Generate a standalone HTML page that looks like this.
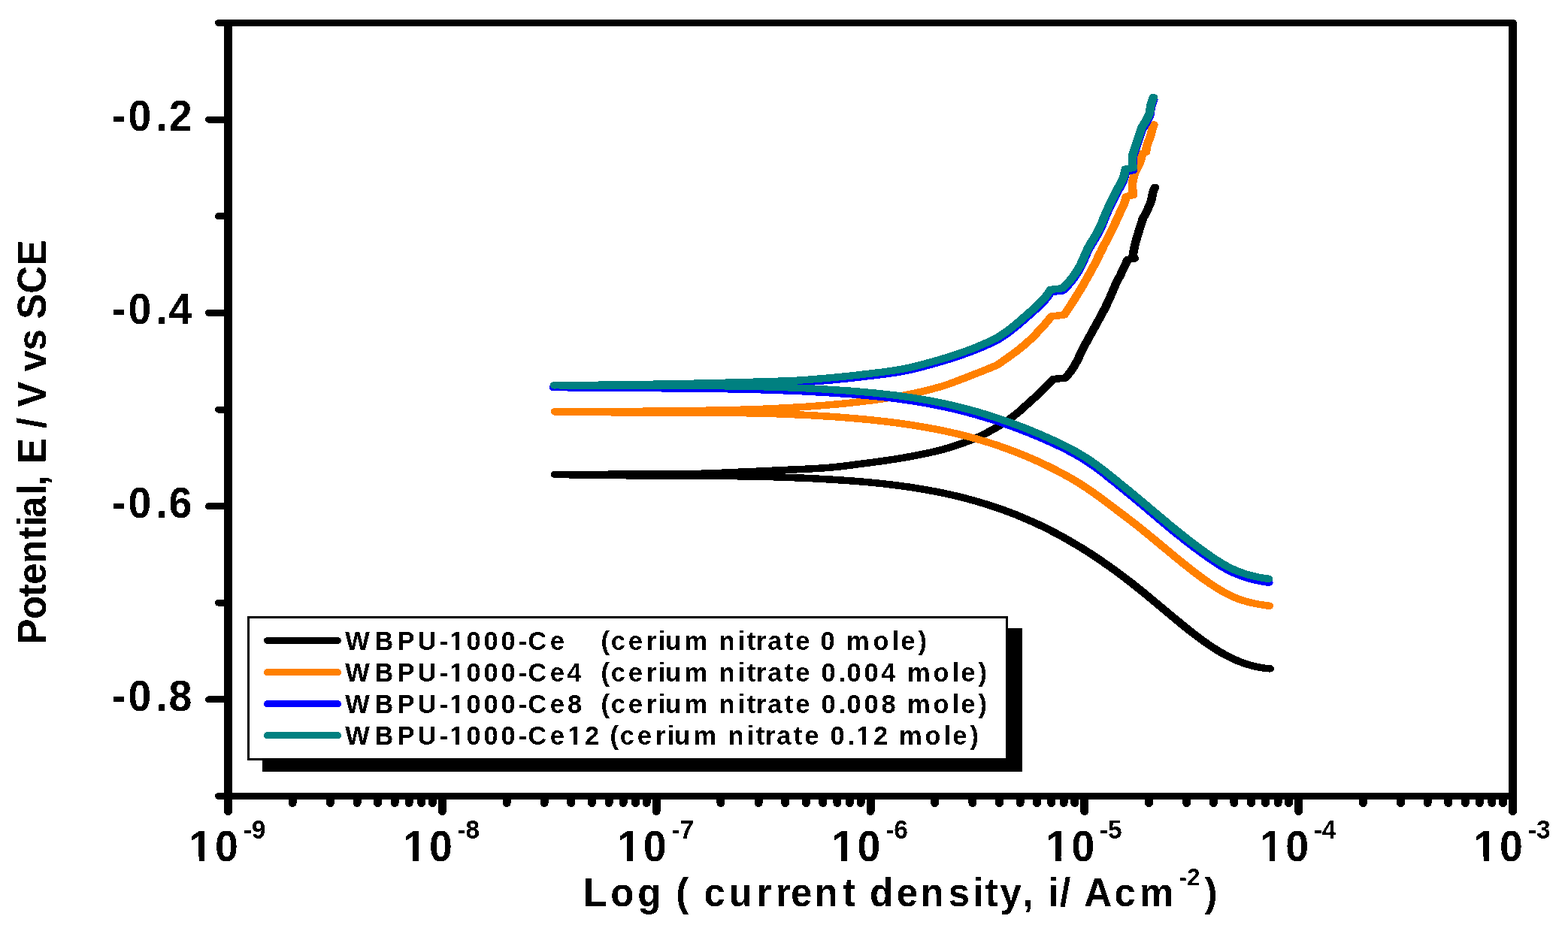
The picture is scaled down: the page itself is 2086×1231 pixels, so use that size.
<!DOCTYPE html>
<html lang="en"><head><meta charset="utf-8"><title>Potentiodynamic polarization curves</title>
<style>html,body{margin:0;padding:0;background:#fff}body{width:2086px;height:1231px;overflow:hidden}svg{display:block}text{font-family:"Liberation Sans",Arial,Helvetica,sans-serif;font-weight:bold;fill:#000;font-kerning:none}</style></head><body>
<svg width="2086" height="1231" viewBox="0 0 2086 1231">
<defs><filter id="bin" x="0" y="0" width="100%" height="100%" filterUnits="userSpaceOnUse" color-interpolation-filters="sRGB"><feComponentTransfer><feFuncA type="discrete" tableValues="0 1"/></feComponentTransfer></filter><clipPath id="c1"><rect x="-3000" y="-69.0" width="6000" height="65.41"/><rect x="-3000.00" y="-4.09" width="3599.58" height="17.2"/><rect x="606.24" y="-4.09" width="4.76" height="17.2"/><rect x="617.18" y="-4.09" width="2382.82" height="17.2"/></clipPath><clipPath id="c2"><rect x="-3000" y="-69.0" width="6000" height="65.41"/><rect x="-3000.00" y="-4.09" width="3599.58" height="17.2"/><rect x="606.24" y="-4.09" width="4.76" height="17.2"/><rect x="617.18" y="-4.09" width="2382.82" height="17.2"/></clipPath><clipPath id="c3"><rect x="-3000" y="-69.0" width="6000" height="65.41"/><rect x="-3000.00" y="-4.09" width="3599.58" height="17.2"/><rect x="606.24" y="-4.09" width="4.76" height="17.2"/><rect x="617.18" y="-4.09" width="2382.82" height="17.2"/></clipPath><clipPath id="c4"><rect x="-3000" y="-69.0" width="6000" height="65.41"/><rect x="-3000.00" y="-4.09" width="3599.58" height="17.2"/><rect x="606.24" y="-4.09" width="4.76" height="17.2"/><rect x="617.18" y="-4.09" width="139.40" height="17.2"/><rect x="763.24" y="-4.09" width="4.76" height="17.2"/><rect x="774.18" y="-4.09" width="2225.82" height="17.2"/></clipPath><clipPath id="c5"><rect x="-3000" y="-69.0" width="6000" height="65.41"/><rect x="-3000.00" y="-4.09" width="4140.58" height="17.2"/><rect x="1147.24" y="-4.09" width="4.76" height="17.2"/><rect x="1158.18" y="-4.09" width="1841.82" height="17.2"/></clipPath><clipPath id="c6"><rect x="-3000" y="-111.0" width="6000" height="105.23"/><rect x="-3000.00" y="-6.27" width="3253.83" height="27.8"/><rect x="264.54" y="-6.27" width="7.66" height="27.8"/><rect x="282.13" y="-6.27" width="2717.87" height="27.8"/></clipPath><clipPath id="c7"><rect x="-3000" y="-111.0" width="6000" height="105.23"/><rect x="-3000.00" y="-6.27" width="3538.66" height="27.8"/><rect x="549.37" y="-6.27" width="7.66" height="27.8"/><rect x="566.97" y="-6.27" width="2433.03" height="27.8"/></clipPath><clipPath id="c8"><rect x="-3000" y="-111.0" width="6000" height="105.23"/><rect x="-3000.00" y="-6.27" width="3823.50" height="27.8"/><rect x="834.21" y="-6.27" width="7.66" height="27.8"/><rect x="851.80" y="-6.27" width="2148.20" height="27.8"/></clipPath><clipPath id="c9"><rect x="-3000" y="-111.0" width="6000" height="105.23"/><rect x="-3000.00" y="-6.27" width="4108.33" height="27.8"/><rect x="1119.04" y="-6.27" width="7.66" height="27.8"/><rect x="1136.63" y="-6.27" width="1863.37" height="27.8"/></clipPath><clipPath id="c10"><rect x="-3000" y="-111.0" width="6000" height="105.23"/><rect x="-3000.00" y="-6.27" width="4393.16" height="27.8"/><rect x="1403.87" y="-6.27" width="7.66" height="27.8"/><rect x="1421.47" y="-6.27" width="1578.53" height="27.8"/></clipPath><clipPath id="c11"><rect x="-3000" y="-111.0" width="6000" height="105.23"/><rect x="-3000.00" y="-6.27" width="4678.00" height="27.8"/><rect x="1688.71" y="-6.27" width="7.66" height="27.8"/><rect x="1706.30" y="-6.27" width="1293.70" height="27.8"/></clipPath><clipPath id="c12"><rect x="-3000" y="-111.0" width="6000" height="105.23"/><rect x="-3000.00" y="-6.27" width="4962.83" height="27.8"/><rect x="1973.54" y="-6.27" width="7.66" height="27.8"/><rect x="1991.13" y="-6.27" width="1008.87" height="27.8"/></clipPath></defs>
<rect width="2086" height="1231" fill="#fff"/>
<g id="curves" fill="none" stroke-linecap="round" stroke-linejoin="round" shape-rendering="crispEdges"><g transform="scale(1.22222 1)" stroke-width="9.5">
<path stroke="#000000" d="M604.2 631.5L606.7 631.5L609.2 631.5L611.6 631.5L614.1 631.5L616.6 631.5L619.1 631.4L621.5 631.4L624.0 631.4L626.5 631.4L628.9 631.4L631.4 631.4L633.9 631.4L636.4 631.4L638.8 631.4L641.3 631.3L643.8 631.3L646.2 631.3L648.7 631.3L651.2 631.3L653.7 631.3L656.1 631.3L658.6 631.3L661.1 631.3L663.5 631.2L666.0 631.2L668.5 631.2L671.0 631.2L673.4 631.2L675.9 631.2L678.4 631.2L680.8 631.1L683.3 631.1L685.8 631.1L688.3 631.1L690.7 631.1L693.2 631.1L695.7 631.1L698.1 631.1L700.6 631.0L703.1 631.0L705.6 631.0L708.0 631.0L710.5 631.0L713.0 631.0L715.4 631.0L717.9 630.9L720.4 630.9L722.9 630.9L725.3 630.9L727.8 630.9L730.3 630.8L732.7 630.8L735.2 630.8L737.7 630.8L740.2 630.7L742.6 630.7L745.1 630.7L747.6 630.7L750.0 630.6L752.5 630.6L755.0 630.5L757.5 630.4L759.9 630.4L762.4 630.3L764.9 630.2L767.3 630.1L769.8 630.0L772.3 629.9L774.7 629.8L777.2 629.7L779.7 629.5L782.2 629.4L784.6 629.3L787.1 629.2L789.6 629.0L792.0 628.9L794.5 628.8L797.0 628.6L799.4 628.5L801.9 628.4L804.4 628.2L806.9 628.1L809.3 628.0L811.8 627.8L814.3 627.7L816.7 627.6L819.2 627.4L821.7 627.3L824.1 627.2L826.6 627.1L829.1 626.9L831.5 626.8L834.0 626.6L836.5 626.5L839.0 626.4L841.4 626.2L843.9 626.1L846.4 625.9L848.8 625.8L851.3 625.6L853.8 625.5L856.2 625.4L858.7 625.2L861.2 625.1L863.7 625.0L866.1 624.8L868.6 624.7L871.1 624.5L873.5 624.4L876.0 624.3L878.5 624.1L880.9 623.9L883.4 623.8L885.9 623.6L888.3 623.4L890.8 623.3L893.3 623.1L895.7 622.9L898.2 622.7L900.7 622.4L903.1 622.2L905.6 621.9L908.0 621.7L910.5 621.3L913.0 621.0L915.4 620.7L917.9 620.3L920.3 620.0L922.8 619.6L925.2 619.2L927.7 618.8L930.1 618.4L932.6 618.0L935.0 617.6L937.5 617.2L939.9 616.9L942.4 616.5L944.8 616.1L947.3 615.7L949.7 615.3L952.2 614.9L954.6 614.5L957.1 614.1L959.5 613.7L962.0 613.2L964.4 612.8L966.9 612.4L969.3 611.9L971.8 611.5L974.2 611.0L976.7 610.5L979.1 610.1L981.5 609.6L984.0 609.1L986.4 608.5L988.8 608.0L991.3 607.5L993.7 606.9L996.1 606.4L998.6 605.8L1001.0 605.2L1003.4 604.6L1005.8 604.0L1008.3 603.4L1010.7 602.7L1013.1 602.1L1015.5 601.4L1017.9 600.7L1020.3 600.0L1022.7 599.3L1025.1 598.6L1027.5 597.8L1029.8 596.9L1032.2 596.1L1034.6 595.2L1036.9 594.3L1039.3 593.3L1041.6 592.4L1044.0 591.4L1046.3 590.4L1048.7 589.4L1051.0 588.4L1053.3 587.3L1055.6 586.3L1057.9 585.2L1060.2 584.0L1062.5 582.8L1064.7 581.6L1067.0 580.3L1069.2 579.0L1071.4 577.7L1073.6 576.3L1075.8 574.9L1078.0 573.4L1080.1 572.0L1082.3 570.5L1084.4 569.0L1086.5 567.4L1088.7 565.8L1090.7 564.2L1092.8 562.6L1094.9 560.9L1097.0 559.2L1099.0 557.5L1101.0 555.7L1103.0 553.9L1104.9 552.1L1106.9 550.2L1108.8 548.3L1110.6 546.3L1112.5 544.3L1114.3 542.3L1116.1 540.2L1118.0 538.2L1119.8 536.2L1121.7 534.2L1123.5 532.2L1125.3 530.1L1127.2 528.1L1129.0 526.0L1130.8 524.0L1132.6 521.9L1134.4 519.9L1136.2 517.8L1137.9 515.6L1139.6 513.4L1141.3 511.3L1143.0 509.0L1144.6 506.8L1146.3 504.5L1146.3 504.5L1159.4 503.2L1159.4 503.2L1161.1 500.9L1162.7 498.5L1164.3 496.1L1165.8 493.7L1167.2 491.2L1168.6 488.6L1169.9 486.0L1171.1 483.3L1172.3 480.5L1173.5 477.8L1174.5 475.0L1175.6 472.2L1176.7 469.4L1177.8 466.6L1178.9 463.9L1180.0 461.2L1181.2 458.4L1182.4 455.7L1183.6 453.0L1184.8 450.3L1186.0 447.6L1187.3 444.9L1188.5 442.2L1189.7 439.5L1190.9 436.8L1192.1 434.1L1193.3 431.4L1194.5 428.7L1195.8 426.0L1197.0 423.3L1198.2 420.6L1199.4 417.9L1200.6 415.2L1201.7 412.5L1202.9 409.7L1204.0 407.0L1205.1 404.2L1206.2 401.4L1207.2 398.6L1208.2 395.8L1209.2 393.0L1210.2 390.1L1211.2 387.3L1212.1 384.4L1213.2 381.6L1214.2 378.8L1215.3 376.1L1216.5 373.3L1217.6 370.6L1218.8 367.8L1219.9 365.1L1221.0 362.3L1222.1 359.6L1223.2 356.8L1224.2 354.0L1225.3 351.2L1226.3 348.3L1227.3 345.5L1227.3 345.5L1235.0 344.0L1233.0 341.0L1233.4 337.7L1233.9 334.4L1234.5 331.0L1235.0 327.8L1235.7 324.5L1236.4 321.2L1237.1 318.0L1237.9 314.7L1238.7 311.5L1239.5 308.3L1240.3 305.1L1241.2 301.9L1242.0 298.6L1242.8 295.4L1243.6 292.2L1244.5 289.0L1244.5 289.0L1246.5 286.0L1246.5 286.0L1247.7 282.8L1248.9 279.6L1250.1 276.3L1251.2 273.0L1252.3 269.7L1253.2 266.4L1253.9 263.0L1254.4 259.5L1255.0 256.0L1255.8 252.6L1257.1 249.4"/>
<path stroke="#000000" d="M604.2 631.3L607.5 631.4L610.8 631.5L614.0 631.6L617.3 631.7L620.6 631.8L623.9 631.8L627.1 631.9L630.4 632.0L633.7 632.1L637.0 632.1L640.2 632.2L643.5 632.3L646.8 632.3L650.0 632.4L653.3 632.4L656.6 632.5L659.9 632.5L663.1 632.6L666.4 632.6L669.7 632.6L673.0 632.7L676.2 632.7L679.5 632.7L682.8 632.8L686.0 632.8L689.3 632.8L692.6 632.8L695.9 632.9L699.1 632.9L702.4 632.9L705.7 632.9L709.0 632.9L712.2 633.0L715.5 633.0L718.8 633.0L722.0 633.0L725.3 633.0L728.6 633.0L731.9 633.1L735.1 633.1L738.4 633.1L741.7 633.1L745.0 633.1L748.2 633.1L751.5 633.2L754.8 633.2L758.0 633.2L761.3 633.2L764.6 633.3L767.9 633.3L771.1 633.3L774.4 633.4L777.7 633.4L781.0 633.4L784.2 633.5L787.5 633.5L790.8 633.6L794.0 633.6L797.3 633.7L800.6 633.7L803.9 633.8L807.1 633.9L810.4 633.9L813.7 634.0L817.0 634.1L820.2 634.2L823.5 634.2L826.8 634.3L830.0 634.4L833.3 634.5L836.6 634.6L839.9 634.7L843.1 634.8L846.4 635.0L849.7 635.1L853.0 635.2L856.2 635.3L859.5 635.5L862.8 635.6L866.0 635.8L869.3 635.9L872.6 636.1L875.9 636.3L879.1 636.5L882.4 636.7L885.7 636.8L889.0 637.0L892.2 637.3L895.5 637.5L898.8 637.7L902.0 637.9L905.3 638.2L908.6 638.4L911.9 638.7L915.1 638.9L918.4 639.2L921.7 639.5L925.0 639.8L928.2 640.1L931.5 640.4L934.8 640.7L938.0 641.0L941.3 641.4L944.6 641.7L947.9 642.1L951.1 642.5L954.4 642.9L957.7 643.3L961.0 643.7L964.2 644.2L967.5 644.6L970.8 645.1L974.0 645.6L977.3 646.1L980.6 646.7L983.9 647.2L987.1 647.8L990.4 648.3L993.7 649.0L997.0 649.6L1000.2 650.2L1003.5 650.9L1006.8 651.6L1010.0 652.3L1013.3 653.0L1016.6 653.8L1019.9 654.5L1023.1 655.3L1026.4 656.2L1029.7 657.0L1033.0 657.9L1036.2 658.8L1039.5 659.7L1042.8 660.7L1046.0 661.7L1049.3 662.7L1052.6 663.7L1055.9 664.8L1059.1 665.9L1062.4 667.0L1065.7 668.2L1069.0 669.4L1072.2 670.6L1075.5 671.9L1078.8 673.1L1082.0 674.5L1085.3 675.8L1088.6 677.2L1091.9 678.6L1095.1 680.1L1098.4 681.6L1101.7 683.1L1105.0 684.6L1108.2 686.2L1111.5 687.9L1114.8 689.6L1118.0 691.3L1121.3 693.0L1124.6 694.8L1127.9 696.6L1131.1 698.5L1134.4 700.4L1137.7 702.4L1141.0 704.3L1144.2 706.4L1147.5 708.5L1150.8 710.6L1154.0 712.7L1157.3 714.9L1160.6 717.2L1163.9 719.5L1167.1 721.8L1170.4 724.2L1173.7 726.6L1177.0 729.0L1180.2 731.5L1183.5 734.0L1186.8 736.6L1190.0 739.2L1193.3 741.9L1196.6 744.6L1199.9 747.3L1203.1 750.1L1206.4 752.9L1209.7 755.7L1213.0 758.6L1216.2 761.5L1219.5 764.5L1222.8 767.5L1226.0 770.5L1229.3 773.6L1232.6 776.7L1235.9 779.9L1239.1 783.1L1242.4 786.3L1245.7 789.6L1249.0 792.8L1252.2 796.1L1255.5 799.5L1258.8 802.8L1262.0 806.1L1265.3 809.5L1268.6 812.8L1271.9 816.2L1275.1 819.5L1278.4 822.8L1281.7 826.1L1285.0 829.4L1288.2 832.7L1291.5 835.9L1294.8 839.1L1298.0 842.2L1301.3 845.3L1304.6 848.3L1307.9 851.3L1311.1 854.2L1314.4 857.0L1317.7 859.7L1321.0 862.3L1324.2 864.8L1327.5 867.3L1330.8 869.6L1334.0 871.8L1337.3 873.9L1340.6 875.8L1343.9 877.7L1347.1 879.4L1350.4 881.0L1353.7 882.5L1357.0 883.8L1360.2 885.0L1363.5 886.1L1366.8 887.1L1370.0 887.9L1373.3 888.6L1376.6 889.2L1379.9 889.6L1382.2 889.8"/>
<path stroke="#FF8000" d="M604.2 548.0L606.7 548.0L609.2 548.0L611.6 548.0L614.1 547.9L616.6 547.9L619.1 547.9L621.5 547.9L624.0 547.9L626.5 547.9L629.0 547.8L631.4 547.8L633.9 547.8L636.4 547.8L638.9 547.8L641.3 547.7L643.8 547.7L646.3 547.7L648.8 547.7L651.2 547.7L653.7 547.6L656.2 547.6L658.7 547.6L661.1 547.6L663.6 547.6L666.1 547.5L668.6 547.5L671.0 547.5L673.5 547.5L676.0 547.5L678.4 547.4L680.9 547.4L683.4 547.4L685.9 547.4L688.3 547.3L690.8 547.3L693.3 547.3L695.8 547.3L698.2 547.3L700.7 547.2L703.2 547.2L705.7 547.2L708.1 547.2L710.6 547.1L713.1 547.1L715.6 547.1L718.0 547.0L720.5 547.0L723.0 547.0L725.5 547.0L727.9 546.9L730.4 546.9L732.9 546.9L735.4 546.8L737.8 546.8L740.3 546.8L742.8 546.7L745.2 546.7L747.7 546.7L750.2 546.6L752.7 546.6L755.1 546.5L757.6 546.5L760.1 546.4L762.6 546.4L765.0 546.3L767.5 546.3L770.0 546.2L772.5 546.2L774.9 546.1L777.4 546.0L779.9 546.0L782.4 545.9L784.8 545.9L787.3 545.8L789.8 545.7L792.3 545.6L794.7 545.6L797.2 545.5L799.7 545.4L802.1 545.3L804.6 545.3L807.1 545.2L809.6 545.1L812.0 545.0L814.5 544.9L817.0 544.8L819.5 544.8L821.9 544.7L824.4 544.5L826.9 544.4L829.3 544.3L831.8 544.2L834.3 544.1L836.8 543.9L839.2 543.8L841.7 543.6L844.2 543.5L846.6 543.3L849.1 543.2L851.6 543.0L854.1 542.9L856.5 542.7L859.0 542.5L861.5 542.4L863.9 542.2L866.4 542.0L868.9 541.9L871.3 541.7L873.8 541.5L876.3 541.3L878.8 541.1L881.2 540.9L883.7 540.6L886.2 540.4L888.6 540.2L891.1 540.0L893.6 539.7L896.0 539.5L898.5 539.3L901.0 539.0L903.4 538.7L905.9 538.5L908.4 538.2L910.8 537.9L913.3 537.7L915.7 537.4L918.2 537.1L920.7 536.8L923.1 536.5L925.6 536.1L928.1 535.8L930.5 535.5L933.0 535.1L935.4 534.8L937.9 534.4L940.3 534.1L942.8 533.7L945.3 533.3L947.7 533.0L950.2 532.6L952.6 532.2L955.1 531.7L957.5 531.3L960.0 530.9L962.4 530.4L964.9 530.0L967.3 529.5L969.8 529.0L972.2 528.5L974.6 528.0L977.1 527.5L979.5 527.0L981.9 526.5L984.4 525.9L986.8 525.4L989.2 524.8L991.7 524.2L994.1 523.6L996.5 522.9L998.9 522.3L1001.4 521.6L1003.8 521.0L1006.2 520.3L1008.6 519.6L1011.0 518.8L1013.4 518.1L1015.8 517.3L1018.2 516.5L1020.6 515.7L1022.9 514.9L1025.3 514.1L1027.6 513.2L1030.0 512.2L1032.3 511.3L1034.7 510.2L1037.0 509.2L1039.3 508.1L1041.6 507.1L1043.9 506.0L1046.2 504.9L1048.6 503.8L1050.9 502.7L1053.2 501.6L1055.5 500.5L1057.8 499.4L1060.1 498.3L1062.4 497.2L1064.7 496.1L1067.0 495.0L1069.3 493.9L1071.6 492.7L1073.9 491.6L1076.2 490.5L1078.5 489.3L1080.8 488.1L1083.0 487.0L1085.3 485.8L1085.3 485.8L1087.5 484.1L1089.6 482.3L1091.7 480.5L1093.8 478.7L1095.9 476.9L1098.0 475.0L1100.1 473.2L1102.2 471.3L1104.3 469.5L1106.3 467.6L1108.4 465.6L1110.4 463.7L1112.4 461.7L1114.4 459.7L1116.3 457.7L1118.3 455.6L1120.1 453.5L1122.0 451.3L1123.8 449.1L1125.7 446.9L1127.5 444.6L1129.2 442.3L1131.0 440.1L1132.8 437.7L1134.5 435.4L1136.2 433.0L1137.9 430.7L1139.5 428.3L1141.2 425.9L1142.8 423.4L1144.5 421.0L1144.5 421.0L1158.4 419.0L1158.4 419.0L1159.8 416.5L1161.2 413.9L1162.6 411.4L1164.0 408.8L1165.4 406.2L1166.7 403.6L1168.1 401.1L1169.4 398.5L1170.7 395.8L1172.1 393.2L1173.4 390.6L1174.7 388.0L1176.0 385.4L1177.3 382.7L1178.6 380.1L1179.8 377.4L1181.1 374.7L1182.3 372.1L1183.6 369.4L1184.8 366.7L1186.0 364.0L1187.2 361.4L1188.4 358.7L1189.6 355.9L1190.8 353.2L1192.0 350.5L1193.1 347.8L1194.2 345.0L1195.3 342.2L1196.4 339.5L1197.5 336.7L1198.7 334.0L1199.8 331.2L1200.9 328.5L1202.0 325.7L1203.2 323.0L1204.3 320.3L1205.5 317.5L1206.6 314.8L1207.8 312.1L1208.9 309.3L1210.0 306.6L1211.1 303.8L1212.2 301.0L1213.3 298.3L1214.4 295.5L1215.4 292.7L1216.5 289.9L1217.5 287.1L1218.6 284.3L1219.6 281.5L1220.7 278.7L1221.8 275.9L1222.8 273.2L1223.8 270.3L1224.6 267.4L1225.3 264.5L1226.0 261.5L1226.0 261.5L1233.3 259.5L1233.3 259.5L1233.0 256.3L1232.8 253.1L1232.7 249.9L1232.7 246.8L1232.7 243.6L1233.0 240.5L1233.6 237.3L1234.3 234.2L1235.1 231.2L1235.9 228.2L1237.0 225.3L1238.2 222.5L1239.5 219.7L1240.6 216.8L1241.4 213.8L1242.1 210.8L1242.7 207.6L1243.2 204.5L1243.2 204.5L1247.3 202.5L1247.3 202.5L1247.6 199.0L1248.1 195.6L1248.8 192.3L1249.7 189.1L1250.8 185.8L1251.8 182.6L1252.7 179.3L1253.4 175.9L1254.1 172.6L1255.0 169.3L1255.9 166.0"/>
<path stroke="#FF8000" d="M604.2 547.8L607.5 547.9L610.8 548.0L614.0 548.1L617.3 548.1L620.6 548.2L623.9 548.3L627.1 548.3L630.4 548.4L633.7 548.4L637.0 548.5L640.2 548.5L643.5 548.6L646.8 548.6L650.0 548.6L653.3 548.7L656.6 548.7L659.9 548.7L663.1 548.7L666.4 548.8L669.7 548.8L673.0 548.8L676.2 548.8L679.5 548.8L682.8 548.8L686.0 548.8L689.3 548.8L692.6 548.8L695.9 548.9L699.1 548.9L702.4 548.9L705.7 548.9L709.0 548.9L712.2 548.9L715.5 548.9L718.8 548.9L722.0 548.9L725.3 548.9L728.6 548.9L731.9 548.9L735.1 548.9L738.4 548.9L741.7 548.9L745.0 548.9L748.2 549.0L751.5 549.0L754.8 549.0L758.0 549.0L761.3 549.0L764.6 549.1L767.9 549.1L771.1 549.1L774.4 549.1L777.7 549.2L781.0 549.2L784.2 549.3L787.5 549.3L790.8 549.3L794.0 549.4L797.3 549.4L800.6 549.5L803.9 549.6L807.1 549.6L810.4 549.7L813.7 549.8L817.0 549.9L820.2 550.0L823.5 550.0L826.8 550.1L830.0 550.2L833.3 550.4L836.6 550.5L839.9 550.6L843.1 550.7L846.4 550.8L849.7 551.0L853.0 551.1L856.2 551.3L859.5 551.4L862.8 551.6L866.0 551.8L869.3 552.0L872.6 552.1L875.9 552.3L879.1 552.5L882.4 552.7L885.7 553.0L889.0 553.2L892.2 553.4L895.5 553.7L898.8 553.9L902.0 554.2L905.3 554.4L908.6 554.7L911.9 555.0L915.1 555.3L918.4 555.6L921.7 555.9L925.0 556.3L928.2 556.6L931.5 556.9L934.8 557.3L938.0 557.7L941.3 558.0L944.6 558.4L947.9 558.8L951.1 559.2L954.4 559.7L957.7 560.1L961.0 560.6L964.2 561.0L967.5 561.5L970.8 562.0L974.0 562.5L977.3 563.0L980.6 563.6L983.9 564.1L987.1 564.7L990.4 565.3L993.7 565.9L997.0 566.5L1000.2 567.2L1003.5 567.9L1006.8 568.6L1010.0 569.3L1013.3 570.0L1016.6 570.8L1019.9 571.5L1023.1 572.3L1026.4 573.2L1029.7 574.0L1033.0 574.9L1036.2 575.8L1039.5 576.7L1042.8 577.7L1046.0 578.6L1049.3 579.6L1052.6 580.7L1055.9 581.7L1059.1 582.8L1062.4 583.9L1065.7 585.1L1069.0 586.3L1072.2 587.5L1075.5 588.7L1078.8 590.0L1082.0 591.3L1085.3 592.6L1088.6 594.0L1091.9 595.4L1095.1 596.8L1098.4 598.3L1101.7 599.8L1105.0 601.3L1108.2 602.9L1111.5 604.5L1114.8 606.1L1118.0 607.8L1121.3 609.5L1124.6 611.3L1127.9 613.0L1131.1 614.9L1134.4 616.7L1137.7 618.6L1141.0 620.5L1144.2 622.5L1147.5 624.5L1150.8 626.6L1154.0 628.6L1157.3 630.8L1160.6 633.0L1163.9 635.2L1167.1 637.5L1170.4 639.9L1173.7 642.3L1177.0 644.8L1180.2 647.4L1183.5 650.0L1186.8 652.8L1190.0 655.6L1193.3 658.4L1196.6 661.3L1199.9 664.3L1203.1 667.2L1206.4 670.3L1209.7 673.3L1213.0 676.3L1216.2 679.4L1219.5 682.4L1222.8 685.4L1226.0 688.4L1229.3 691.5L1232.6 694.6L1235.9 697.7L1239.1 700.8L1242.4 704.0L1245.7 707.3L1249.0 710.5L1252.2 713.8L1255.5 717.1L1258.8 720.4L1262.0 723.7L1265.3 727.1L1268.6 730.4L1271.9 733.7L1275.1 737.0L1278.4 740.3L1281.7 743.6L1285.0 746.8L1288.2 750.1L1291.5 753.2L1294.8 756.4L1298.0 759.5L1301.3 762.6L1304.6 765.6L1307.9 768.6L1311.1 771.5L1314.4 774.3L1317.7 777.1L1321.0 779.7L1324.2 782.3L1327.5 784.8L1330.8 787.1L1334.0 789.4L1337.3 791.4L1340.6 793.3L1343.9 795.1L1347.1 796.7L1350.4 798.2L1353.7 799.5L1357.0 800.6L1360.2 801.7L1363.5 802.6L1366.8 803.4L1370.0 804.2L1373.3 804.8L1376.6 805.4L1379.9 806.0L1381.4 806.3"/>
<path stroke="#0000FF" d="M602.6 515.6L605.1 515.5L607.6 515.5L610.1 515.5L612.6 515.5L615.2 515.5L617.7 515.5L620.2 515.4L622.7 515.4L625.2 515.4L627.7 515.4L630.2 515.4L632.7 515.3L635.2 515.3L637.8 515.3L640.3 515.3L642.8 515.2L645.3 515.2L647.8 515.2L650.3 515.2L652.8 515.1L655.3 515.1L657.8 515.1L660.3 515.0L662.7 515.0L665.2 515.0L667.7 514.9L670.2 514.9L672.6 514.9L675.1 514.8L677.6 514.8L680.1 514.8L682.5 514.7L685.0 514.7L687.5 514.7L690.0 514.6L692.4 514.6L694.9 514.5L697.4 514.5L699.8 514.4L702.3 514.4L704.8 514.4L707.3 514.3L709.7 514.3L712.2 514.2L714.7 514.2L717.2 514.1L719.6 514.1L722.1 514.0L724.6 514.0L727.0 513.9L729.5 513.8L732.0 513.8L734.5 513.7L736.9 513.7L739.4 513.6L741.9 513.6L744.4 513.5L746.8 513.5L749.3 513.4L751.8 513.3L754.3 513.3L756.7 513.2L759.2 513.2L761.7 513.1L764.1 513.0L766.6 513.0L769.1 512.9L771.6 512.8L774.0 512.8L776.5 512.7L779.0 512.6L781.5 512.5L783.9 512.5L786.4 512.4L788.9 512.3L791.3 512.3L793.8 512.2L796.3 512.1L798.8 512.0L801.2 512.0L803.7 511.9L806.2 511.8L808.7 511.7L811.1 511.6L813.6 511.6L816.1 511.5L818.5 511.4L821.0 511.3L823.5 511.2L826.0 511.1L828.4 511.1L830.9 511.0L833.4 510.9L835.9 510.8L838.3 510.7L840.8 510.6L843.3 510.6L845.7 510.5L848.2 510.4L850.7 510.3L853.2 510.2L855.6 510.0L858.1 509.9L860.6 509.8L863.0 509.7L865.5 509.5L868.0 509.4L870.4 509.2L872.9 509.0L875.4 508.8L877.9 508.6L880.3 508.4L882.8 508.2L885.3 507.9L887.7 507.7L890.2 507.4L892.7 507.2L895.1 506.9L897.6 506.7L900.0 506.4L902.5 506.1L905.0 505.9L907.4 505.6L909.9 505.3L912.4 505.0L914.8 504.7L917.3 504.4L919.7 504.1L922.2 503.8L924.7 503.5L927.1 503.1L929.6 502.8L932.0 502.5L934.5 502.1L937.0 501.8L939.4 501.4L941.9 501.1L944.3 500.7L946.8 500.4L949.2 500.0L951.7 499.7L954.2 499.3L956.6 498.9L959.1 498.6L961.5 498.2L964.0 497.8L966.4 497.4L968.9 496.9L971.3 496.5L973.8 496.1L976.2 495.6L978.7 495.1L981.1 494.6L983.5 494.1L985.9 493.5L988.4 492.9L990.8 492.2L993.2 491.5L995.6 490.8L998.0 490.1L1000.4 489.4L1002.8 488.6L1005.2 487.8L1007.6 487.0L1010.0 486.2L1012.3 485.4L1014.7 484.6L1017.1 483.8L1019.5 483.0L1021.9 482.1L1024.2 481.3L1026.6 480.4L1029.0 479.6L1031.4 478.7L1033.7 477.8L1036.1 476.8L1038.4 475.9L1040.8 475.0L1043.1 474.0L1045.5 473.0L1047.8 472.1L1050.2 471.0L1052.5 470.0L1054.8 469.0L1057.1 467.9L1059.4 466.9L1061.7 465.7L1064.0 464.6L1066.3 463.4L1068.5 462.3L1070.8 461.0L1073.1 459.8L1075.3 458.6L1077.6 457.3L1079.8 456.0L1082.1 454.7L1084.3 453.4L1084.3 453.4L1086.5 451.8L1088.7 450.1L1090.9 448.4L1093.0 446.6L1095.2 444.8L1097.2 443.0L1099.3 441.1L1101.3 439.2L1103.4 437.2L1105.4 435.2L1107.3 433.2L1109.3 431.2L1111.3 429.1L1113.2 427.0L1115.2 424.9L1117.1 422.9L1119.0 420.8L1121.0 418.7L1122.9 416.6L1124.9 414.5L1126.8 412.4L1128.7 410.3L1130.6 408.1L1132.5 405.9L1134.3 403.6L1136.0 401.3L1137.7 399.0L1139.3 396.5L1140.8 394.0L1142.2 391.4L1143.7 388.7L1143.7 388.7L1156.7 386.8L1156.7 386.8L1158.6 384.7L1160.3 382.5L1162.1 380.3L1163.7 378.0L1165.4 375.7L1166.9 373.3L1168.4 370.9L1169.9 368.4L1171.3 365.8L1172.7 363.3L1174.0 360.6L1175.2 358.0L1176.4 355.3L1177.5 352.6L1178.5 349.8L1179.5 347.0L1180.5 344.1L1181.5 341.3L1182.5 338.5L1183.6 335.7L1184.7 333.0L1185.8 330.3L1187.1 327.6L1188.4 325.0L1189.7 322.4L1191.0 319.7L1192.3 317.1L1193.6 314.5L1194.8 311.8L1196.0 309.2L1197.1 306.4L1198.2 303.7L1199.2 300.9L1200.1 298.0L1201.1 295.2L1202.0 292.3L1202.9 289.5L1203.9 286.6L1204.9 283.8L1205.9 281.1L1207.0 278.3L1208.1 275.5L1209.2 272.8L1210.3 270.0L1211.4 267.3L1212.5 264.6L1213.6 261.8L1214.8 259.1L1215.9 256.3L1217.1 253.6L1218.3 250.9L1219.6 248.2L1220.7 245.5L1221.8 242.8L1222.8 240.0L1223.6 237.1L1224.3 234.2L1224.9 231.2L1225.4 228.2L1225.4 228.2L1233.2 226.7L1233.2 226.7L1233.1 223.6L1233.0 220.4L1232.9 217.4L1232.9 214.3L1233.0 211.2L1233.5 208.2L1234.2 205.2L1235.1 202.3L1235.9 199.3L1236.7 196.3L1237.4 193.4L1238.2 190.4L1239.1 187.5L1239.9 184.6L1240.7 181.6L1241.5 178.6L1242.3 175.7L1243.2 172.8L1244.4 170.1L1245.7 167.5L1247.1 164.8L1248.4 162.2L1249.5 159.4L1250.7 156.6L1251.6 153.7L1252.0 150.7L1252.3 147.6L1252.7 144.5L1253.2 141.5L1253.9 138.5L1254.8 135.6L1255.7 132.7"/>
<path stroke="#0000FF" d="M602.6 515.5L605.9 515.6L609.2 515.6L612.6 515.7L615.9 515.7L619.2 515.8L622.5 515.8L625.9 515.9L629.2 515.9L632.5 515.9L635.8 516.0L639.2 516.0L642.5 516.0L645.8 516.1L649.1 516.1L652.5 516.1L655.8 516.2L659.0 516.2L662.3 516.2L665.6 516.3L668.9 516.3L672.1 516.3L675.4 516.4L678.7 516.4L682.0 516.4L685.2 516.4L688.5 516.5L691.8 516.5L695.1 516.5L698.3 516.6L701.6 516.6L704.9 516.6L708.2 516.6L711.4 516.7L714.7 516.7L718.0 516.7L721.3 516.8L724.5 516.8L727.8 516.8L731.1 516.8L734.4 516.9L737.6 516.9L740.9 517.0L744.2 517.0L747.5 517.0L750.7 517.1L754.0 517.1L757.3 517.2L760.6 517.2L763.8 517.3L767.1 517.3L770.4 517.4L773.7 517.4L776.9 517.5L780.2 517.5L783.5 517.6L786.7 517.7L790.0 517.7L793.3 517.8L796.6 517.9L799.8 517.9L803.1 518.0L806.4 518.1L809.7 518.2L812.9 518.3L816.2 518.4L819.5 518.5L822.8 518.6L826.0 518.7L829.3 518.8L832.6 518.9L835.9 519.0L839.1 519.2L842.4 519.3L845.7 519.4L849.0 519.6L852.2 519.7L855.5 519.9L858.8 520.0L862.1 520.2L865.3 520.4L868.6 520.5L871.9 520.7L875.2 520.9L878.4 521.1L881.7 521.3L885.0 521.5L888.3 521.8L891.5 522.0L894.8 522.2L898.1 522.4L901.4 522.7L904.6 522.9L907.9 523.2L911.2 523.4L914.4 523.7L917.7 524.0L921.0 524.2L924.3 524.5L927.5 524.8L930.8 525.1L934.1 525.5L937.4 525.8L940.6 526.1L943.9 526.5L947.2 526.9L950.5 527.2L953.7 527.6L957.0 528.0L960.3 528.5L963.6 528.9L966.8 529.4L970.1 529.8L973.4 530.3L976.7 530.8L979.9 531.3L983.2 531.9L986.5 532.5L989.8 533.0L993.0 533.6L996.3 534.3L999.6 534.9L1002.9 535.6L1006.1 536.3L1009.4 537.0L1012.7 537.7L1016.0 538.5L1019.2 539.3L1022.5 540.1L1025.8 540.9L1029.1 541.8L1032.3 542.6L1035.6 543.6L1038.9 544.5L1042.1 545.5L1045.4 546.5L1048.7 547.5L1052.0 548.5L1055.2 549.6L1058.5 550.7L1061.8 551.8L1065.1 552.9L1068.3 554.1L1071.6 555.3L1074.9 556.6L1078.2 557.8L1081.4 559.1L1084.7 560.4L1088.0 561.7L1091.3 563.1L1094.5 564.5L1097.8 565.9L1101.1 567.3L1104.4 568.8L1107.6 570.3L1110.9 571.8L1114.2 573.4L1117.5 574.9L1120.7 576.5L1124.0 578.2L1127.3 579.8L1130.6 581.5L1133.8 583.2L1137.1 585.0L1140.4 586.7L1143.7 588.5L1146.9 590.4L1150.2 592.2L1153.5 594.1L1156.7 596.0L1160.0 598.0L1163.3 600.1L1166.6 602.2L1169.8 604.4L1173.1 606.6L1176.4 609.0L1179.7 611.4L1182.9 613.9L1186.2 616.6L1189.5 619.4L1192.7 622.2L1196.0 625.2L1199.3 628.2L1202.6 631.3L1205.8 634.5L1209.1 637.7L1212.4 640.9L1215.7 644.1L1218.9 647.4L1222.2 650.6L1225.5 653.9L1228.7 657.1L1232.0 660.4L1235.3 663.7L1238.6 667.0L1241.8 670.4L1245.1 673.8L1248.4 677.1L1251.7 680.5L1254.9 683.9L1258.2 687.3L1261.5 690.6L1264.7 694.0L1268.0 697.3L1271.3 700.7L1274.6 704.0L1277.8 707.3L1281.1 710.5L1284.4 713.7L1287.7 716.9L1290.9 720.1L1294.2 723.2L1297.5 726.2L1300.7 729.3L1304.0 732.2L1307.3 735.2L1310.6 738.1L1313.8 740.9L1317.1 743.7L1320.4 746.5L1323.7 749.2L1326.9 751.8L1330.2 754.2L1333.5 756.5L1336.7 758.7L1340.0 760.7L1343.3 762.6L1346.6 764.3L1349.8 765.9L1353.1 767.4L1356.4 768.7L1359.7 769.9L1362.9 771.0L1366.2 772.0L1369.5 772.8L1372.7 773.6L1376.0 774.3L1379.3 774.9L1380.9 775.1"/>
<path stroke="#008080" d="M603.4 512.8L605.9 512.7L608.4 512.7L610.8 512.7L613.3 512.7L615.8 512.7L618.2 512.6L620.7 512.6L623.2 512.6L625.7 512.6L628.1 512.5L630.6 512.5L633.1 512.5L635.5 512.5L638.0 512.4L640.5 512.4L643.0 512.4L645.4 512.3L647.9 512.3L650.4 512.3L652.9 512.2L655.3 512.2L657.8 512.2L660.3 512.1L662.7 512.1L665.2 512.1L667.7 512.0L670.2 512.0L672.6 512.0L675.1 511.9L677.6 511.9L680.0 511.9L682.5 511.8L685.0 511.8L687.5 511.7L689.9 511.7L692.4 511.6L694.9 511.6L697.3 511.6L699.8 511.5L702.3 511.5L704.8 511.4L707.2 511.4L709.7 511.3L712.2 511.2L714.7 511.2L717.1 511.1L719.6 511.1L722.1 511.0L724.5 511.0L727.0 510.9L729.5 510.9L732.0 510.8L734.4 510.7L736.9 510.7L739.4 510.6L741.8 510.6L744.3 510.5L746.8 510.4L749.3 510.4L751.7 510.3L754.2 510.3L756.7 510.2L759.1 510.1L761.6 510.1L764.1 510.0L766.6 509.9L769.0 509.9L771.5 509.8L774.0 509.7L776.4 509.6L778.9 509.6L781.4 509.5L783.9 509.4L786.3 509.3L788.8 509.3L791.3 509.2L793.7 509.1L796.2 509.0L798.7 509.0L801.2 508.9L803.6 508.8L806.1 508.7L808.6 508.6L811.0 508.5L813.5 508.5L816.0 508.4L818.5 508.3L820.9 508.2L823.4 508.1L825.9 508.0L828.3 508.0L830.8 507.9L833.3 507.8L835.8 507.7L838.2 507.6L840.7 507.5L843.2 507.4L845.6 507.3L848.1 507.2L850.6 507.1L853.1 507.0L855.5 506.9L858.0 506.8L860.5 506.6L862.9 506.5L865.4 506.4L867.9 506.2L870.3 506.0L872.8 505.8L875.3 505.6L877.7 505.4L880.2 505.2L882.7 505.0L885.1 504.7L887.6 504.5L890.1 504.2L892.5 504.0L895.0 503.7L897.5 503.5L899.9 503.2L902.4 502.9L904.8 502.7L907.3 502.4L909.8 502.1L912.2 501.8L914.7 501.5L917.1 501.2L919.6 500.9L922.1 500.6L924.5 500.3L927.0 499.9L929.4 499.6L931.9 499.3L934.4 498.9L936.8 498.6L939.3 498.2L941.7 497.9L944.2 497.5L946.6 497.2L949.1 496.8L951.6 496.5L954.0 496.1L956.5 495.7L958.9 495.4L961.4 495.0L963.8 494.6L966.3 494.2L968.7 493.7L971.2 493.3L973.6 492.9L976.1 492.4L978.5 491.9L980.9 491.4L983.3 490.9L985.8 490.3L988.2 489.7L990.6 489.0L993.0 488.3L995.4 487.6L997.8 486.9L1000.2 486.2L1002.6 485.4L1005.0 484.6L1007.4 483.8L1009.8 483.0L1012.2 482.2L1014.6 481.4L1016.9 480.6L1019.3 479.8L1021.7 478.9L1024.1 478.1L1026.4 477.2L1028.8 476.4L1031.2 475.5L1033.5 474.6L1035.9 473.6L1038.3 472.7L1040.6 471.8L1043.0 470.8L1045.3 469.8L1047.6 468.9L1050.0 467.8L1052.3 466.8L1054.6 465.8L1056.9 464.7L1059.2 463.7L1061.5 462.5L1063.8 461.4L1066.1 460.2L1068.3 459.1L1070.6 457.8L1072.9 456.6L1075.1 455.4L1077.4 454.1L1079.6 452.8L1081.9 451.5L1084.1 450.2L1084.1 450.2L1086.3 448.6L1088.5 446.9L1090.7 445.2L1092.8 443.4L1094.9 441.6L1097.0 439.8L1099.1 437.9L1101.1 436.0L1103.1 434.0L1105.1 432.0L1107.1 430.0L1109.1 428.0L1111.0 425.9L1113.0 423.8L1114.9 421.7L1116.9 419.7L1118.8 417.6L1120.7 415.5L1122.7 413.4L1124.7 411.3L1126.6 409.2L1128.5 407.1L1130.4 404.9L1132.2 402.7L1134.0 400.4L1135.8 398.1L1137.4 395.8L1139.0 393.3L1140.5 390.8L1142.0 388.2L1143.4 385.5L1143.4 385.5L1156.5 383.6L1156.5 383.6L1158.3 381.5L1160.1 379.3L1161.8 377.1L1163.5 374.8L1165.1 372.5L1166.7 370.1L1168.2 367.7L1169.7 365.2L1171.1 362.6L1172.5 360.1L1173.8 357.4L1175.0 354.8L1176.2 352.1L1177.2 349.4L1178.3 346.6L1179.3 343.8L1180.3 340.9L1181.2 338.1L1182.3 335.3L1183.3 332.5L1184.4 329.8L1185.6 327.1L1186.8 324.4L1188.1 321.8L1189.4 319.2L1190.8 316.5L1192.1 313.9L1193.4 311.3L1194.6 308.6L1195.8 306.0L1196.9 303.2L1197.9 300.5L1198.9 297.7L1199.9 294.8L1200.8 292.0L1201.7 289.1L1202.7 286.3L1203.6 283.4L1204.6 280.6L1205.7 277.9L1206.7 275.1L1207.8 272.3L1208.9 269.6L1210.0 266.8L1211.1 264.1L1212.3 261.4L1213.4 258.6L1214.5 255.9L1215.6 253.1L1216.8 250.4L1218.1 247.7L1219.3 245.0L1220.5 242.3L1221.6 239.6L1222.6 236.8L1223.4 233.9L1224.0 231.0L1224.6 228.0L1225.1 225.0L1225.1 225.0L1233.0 223.5L1233.0 223.5L1232.8 220.4L1232.7 217.2L1232.7 214.2L1232.7 211.1L1232.8 208.0L1233.2 205.0L1234.0 202.0L1234.8 199.1L1235.7 196.1L1236.4 193.1L1237.2 190.2L1238.0 187.2L1238.8 184.3L1239.7 181.4L1240.5 178.4L1241.2 175.4L1242.0 172.5L1242.9 169.6L1244.1 166.9L1245.5 164.3L1246.8 161.6L1248.1 159.0L1249.3 156.2L1250.4 153.4L1251.3 150.5L1251.8 147.5L1252.1 144.4L1252.4 141.3L1253.0 138.3L1253.7 135.3L1254.5 132.4L1255.5 129.5"/>
<path stroke="#008080" d="M603.4 512.7L606.7 512.7L610.0 512.8L613.2 512.8L616.5 512.9L619.8 512.9L623.0 512.9L626.3 513.0L629.6 513.0L632.9 513.0L636.1 513.1L639.4 513.1L642.7 513.1L646.0 513.1L649.2 513.1L652.5 513.1L655.8 513.2L659.0 513.2L662.3 513.2L665.6 513.2L668.9 513.2L672.1 513.2L675.4 513.2L678.7 513.2L682.0 513.2L685.2 513.2L688.5 513.2L691.8 513.2L695.0 513.2L698.3 513.2L701.6 513.2L704.9 513.2L708.1 513.2L711.4 513.2L714.7 513.3L718.0 513.3L721.2 513.3L724.5 513.3L727.8 513.3L731.0 513.3L734.3 513.3L737.6 513.3L740.9 513.3L744.1 513.3L747.4 513.4L750.7 513.4L754.0 513.4L757.2 513.4L760.5 513.4L763.8 513.5L767.0 513.5L770.3 513.5L773.6 513.6L776.9 513.6L780.1 513.6L783.4 513.7L786.7 513.7L790.0 513.8L793.2 513.8L796.5 513.9L799.8 513.9L803.0 514.0L806.3 514.1L809.6 514.2L812.9 514.2L816.1 514.3L819.4 514.4L822.7 514.5L826.0 514.6L829.2 514.7L832.5 514.8L835.8 514.9L839.0 515.0L842.3 515.1L845.6 515.2L848.9 515.4L852.1 515.5L855.4 515.7L858.7 515.8L862.0 516.0L865.2 516.1L868.5 516.3L871.8 516.4L875.0 516.6L878.3 516.8L881.6 517.0L884.9 517.2L888.1 517.4L891.4 517.6L894.7 517.8L898.0 518.1L901.2 518.3L904.5 518.5L907.8 518.8L911.0 519.0L914.3 519.3L917.6 519.6L920.9 519.8L924.1 520.1L927.4 520.4L930.7 520.7L934.0 521.1L937.2 521.4L940.5 521.7L943.8 522.1L947.0 522.5L950.3 522.8L953.6 523.2L956.9 523.6L960.1 524.1L963.4 524.5L966.7 525.0L970.0 525.4L973.2 525.9L976.5 526.4L979.8 526.9L983.0 527.5L986.3 528.1L989.6 528.6L992.9 529.2L996.1 529.9L999.4 530.5L1002.7 531.2L1006.0 531.9L1009.2 532.6L1012.5 533.3L1015.8 534.1L1019.0 534.9L1022.3 535.7L1025.6 536.5L1028.9 537.4L1032.1 538.2L1035.4 539.2L1038.7 540.1L1042.0 541.1L1045.2 542.1L1048.5 543.1L1051.8 544.1L1055.0 545.2L1058.3 546.3L1061.6 547.4L1064.9 548.5L1068.1 549.7L1071.4 550.9L1074.7 552.2L1078.0 553.4L1081.2 554.7L1084.5 556.0L1087.8 557.3L1091.0 558.7L1094.3 560.1L1097.6 561.5L1100.9 562.9L1104.1 564.4L1107.4 565.9L1110.7 567.4L1114.0 569.0L1117.2 570.5L1120.5 572.1L1123.8 573.8L1127.0 575.4L1130.3 577.1L1133.6 578.8L1136.9 580.6L1140.1 582.3L1143.4 584.1L1146.7 586.0L1150.0 587.8L1153.2 589.7L1156.5 591.6L1159.8 593.6L1163.0 595.7L1166.3 597.8L1169.6 600.0L1172.9 602.2L1176.1 604.6L1179.4 607.0L1182.7 609.5L1186.0 612.2L1189.2 615.0L1192.5 617.8L1195.8 620.8L1199.0 623.8L1202.3 626.9L1205.6 630.1L1208.9 633.3L1212.1 636.5L1215.4 639.7L1218.7 643.0L1222.0 646.2L1225.2 649.5L1228.5 652.7L1231.8 656.0L1235.0 659.3L1238.3 662.6L1241.6 666.0L1244.9 669.4L1248.1 672.7L1251.4 676.1L1254.7 679.5L1258.0 682.9L1261.2 686.2L1264.5 689.6L1267.8 692.9L1271.0 696.3L1274.3 699.6L1277.6 702.9L1280.9 706.1L1284.1 709.3L1287.4 712.5L1290.7 715.7L1294.0 718.8L1297.2 721.8L1300.5 724.9L1303.8 727.8L1307.0 730.8L1310.3 733.6L1313.6 736.5L1316.9 739.3L1320.1 742.0L1323.4 744.7L1326.7 747.2L1330.0 749.7L1333.2 752.0L1336.5 754.1L1339.8 756.1L1343.0 758.0L1346.3 759.7L1349.6 761.2L1352.9 762.7L1356.1 764.0L1359.4 765.2L1362.7 766.2L1366.0 767.2L1369.2 768.0L1372.5 768.8L1375.8 769.4L1379.0 770.0L1380.7 770.3"/>
</g></g>
<g id="legend" shape-rendering="crispEdges">
<rect x="349" y="836" width="1011" height="191" fill="#000"/>
<rect x="330.5" y="821.5" width="1009" height="189" fill="#fff" stroke="#000" stroke-width="3"/>
<line x1="355.5" y1="852.5" x2="449.5" y2="852.5" stroke="#000000" stroke-width="9" stroke-linecap="round"/>
<line x1="355.5" y1="894.7" x2="449.5" y2="894.7" stroke="#FF8000" stroke-width="9" stroke-linecap="round"/>
<line x1="355.5" y1="936.6" x2="449.5" y2="936.6" stroke="#0000FF" stroke-width="9" stroke-linecap="round"/>
<line x1="355.5" y1="978.7" x2="449.5" y2="978.7" stroke="#008080" stroke-width="9" stroke-linecap="round"/>
</g>
<g id="legendtext" filter="url(#bin)">
<text x="459.2 498.2 528.4 555.6 585.0 598.2 620.4 643.4 666.4 689.8 702.3 731.8" y="0" font-size="34.5" xml:space="preserve" transform="translate(0 865.1) scale(1 1.04)" clip-path="url(#c1)">WBPU-1000-Ce</text>
<text x="799.4 812.7 835.8 859.9 875.7 885.0 910.6 944.0 956.4 981.7 993.8 1005.9 1021.3 1043.8 1058.3 1079.7 1091.4 1113.6 1126.1 1161.5 1186.7 1198.3 1221.6" y="0" font-size="34.5" xml:space="preserve" transform="translate(0 865.1) scale(1 1.04)">(cerium nitrate 0 mole)</text>
<text x="459.2 498.2 528.4 555.6 585.0 598.2 620.4 643.4 666.4 689.8 702.3 731.8 754.2" y="0" font-size="34.5" xml:space="preserve" transform="translate(0 907.3) scale(1 1.04)" clip-path="url(#c2)">WBPU-1000-Ce4</text>
<text x="799.4 812.7 835.8 859.9 875.7 885.0 910.6 944.0 956.4 981.7 993.8 1005.9 1021.3 1043.8 1058.3 1080.2 1092.4 1115.7 1126.4 1149.4 1172.2 1194.5 1207.1 1241.5 1266.7 1278.3 1301.6" y="0" font-size="34.5" xml:space="preserve" transform="translate(0 907.3) scale(1 1.04)">(cerium nitrate 0.004 mole)</text>
<text x="459.2 498.2 528.4 555.6 585.0 598.2 620.4 643.4 666.4 689.8 702.3 731.8 754.9" y="0" font-size="34.5" xml:space="preserve" transform="translate(0 949.2) scale(1 1.04)" clip-path="url(#c3)">WBPU-1000-Ce8</text>
<text x="799.4 812.7 835.8 859.9 875.7 885.0 910.6 944.0 956.4 981.7 993.8 1005.9 1021.3 1043.8 1058.3 1080.2 1092.4 1115.7 1126.4 1149.4 1172.4 1194.5 1207.1 1241.5 1266.7 1278.3 1301.6" y="0" font-size="34.5" xml:space="preserve" transform="translate(0 949.2) scale(1 1.04)">(cerium nitrate 0.008 mole)</text>
<text x="459.2 498.2 528.4 555.6 585.0 598.2 620.4 643.4 666.4 689.8 702.3 731.8 755.2 778.0" y="0" font-size="34.5" xml:space="preserve" transform="translate(0 991.3) scale(1 1.04)" clip-path="url(#c4)">WBPU-1000-Ce12</text>
<text x="811.4 824.7 847.8 871.9 887.7 897.0 922.6 956.0 968.4 993.7 1005.8 1017.9 1033.3 1055.8 1070.3 1092.2 1104.4 1127.7 1139.2 1162.0 1183.8 1196.1 1230.5 1255.7 1267.3 1290.6" y="0" font-size="34.5" xml:space="preserve" transform="translate(0 991.3) scale(1 1.04)" clip-path="url(#c5)">(cerium nitrate 0.12 mole)</text>
</g>
<g id="axes" stroke="#000" fill="none" stroke-linecap="round" shape-rendering="crispEdges">
<line x1="298" y1="30.5" x2="2010" y2="30.5" stroke-width="9" stroke-linecap="butt"/>
<line x1="298" y1="1059.5" x2="2013" y2="1059.5" stroke-width="9" stroke-linecap="butt"/>
<line x1="303.5" y1="26" x2="303.5" y2="1064" stroke-width="11" stroke-linecap="butt"/>
<path d="M2007 26 H2013.5 Q2018 26.5 2018 31 V1064 H2007 Z" fill="#000" stroke="none"/>
<line x1="290.5" y1="30.5" x2="300" y2="30.5" stroke-width="9"/>
<line x1="277.5" y1="159.1" x2="300" y2="159.1" stroke-width="9"/>
<line x1="290.5" y1="287.7" x2="300" y2="287.7" stroke-width="9"/>
<line x1="277.5" y1="416.4" x2="300" y2="416.4" stroke-width="9"/>
<line x1="290.5" y1="545.0" x2="300" y2="545.0" stroke-width="9"/>
<line x1="277.5" y1="673.6" x2="300" y2="673.6" stroke-width="9"/>
<line x1="290.5" y1="802.2" x2="300" y2="802.2" stroke-width="9"/>
<line x1="277.5" y1="930.9" x2="300" y2="930.9" stroke-width="9"/>
<line x1="290.5" y1="1059.5" x2="300" y2="1059.5" stroke-width="9"/>
<line x1="303.5" y1="1060" x2="303.5" y2="1079.5" stroke-width="11"/>
<line x1="389.2" y1="1060" x2="389.2" y2="1068.5" stroke-width="11"/>
<line x1="439.4" y1="1060" x2="439.4" y2="1068.5" stroke-width="11"/>
<line x1="475.0" y1="1060" x2="475.0" y2="1068.5" stroke-width="11"/>
<line x1="502.6" y1="1060" x2="502.6" y2="1068.5" stroke-width="11"/>
<line x1="525.1" y1="1060" x2="525.1" y2="1068.5" stroke-width="11"/>
<line x1="544.2" y1="1060" x2="544.2" y2="1068.5" stroke-width="11"/>
<line x1="560.7" y1="1060" x2="560.7" y2="1068.5" stroke-width="11"/>
<line x1="575.3" y1="1060" x2="575.3" y2="1068.5" stroke-width="11"/>
<line x1="588.3" y1="1060" x2="588.3" y2="1079.5" stroke-width="11"/>
<line x1="674.1" y1="1060" x2="674.1" y2="1068.5" stroke-width="11"/>
<line x1="724.2" y1="1060" x2="724.2" y2="1068.5" stroke-width="11"/>
<line x1="759.8" y1="1060" x2="759.8" y2="1068.5" stroke-width="11"/>
<line x1="787.4" y1="1060" x2="787.4" y2="1068.5" stroke-width="11"/>
<line x1="810.0" y1="1060" x2="810.0" y2="1068.5" stroke-width="11"/>
<line x1="829.0" y1="1060" x2="829.0" y2="1068.5" stroke-width="11"/>
<line x1="845.6" y1="1060" x2="845.6" y2="1068.5" stroke-width="11"/>
<line x1="860.1" y1="1060" x2="860.1" y2="1068.5" stroke-width="11"/>
<line x1="873.2" y1="1060" x2="873.2" y2="1079.5" stroke-width="11"/>
<line x1="958.9" y1="1060" x2="958.9" y2="1068.5" stroke-width="11"/>
<line x1="1009.1" y1="1060" x2="1009.1" y2="1068.5" stroke-width="11"/>
<line x1="1044.7" y1="1060" x2="1044.7" y2="1068.5" stroke-width="11"/>
<line x1="1072.3" y1="1060" x2="1072.3" y2="1068.5" stroke-width="11"/>
<line x1="1094.8" y1="1060" x2="1094.8" y2="1068.5" stroke-width="11"/>
<line x1="1113.9" y1="1060" x2="1113.9" y2="1068.5" stroke-width="11"/>
<line x1="1130.4" y1="1060" x2="1130.4" y2="1068.5" stroke-width="11"/>
<line x1="1145.0" y1="1060" x2="1145.0" y2="1068.5" stroke-width="11"/>
<line x1="1158.0" y1="1060" x2="1158.0" y2="1079.5" stroke-width="11"/>
<line x1="1243.7" y1="1060" x2="1243.7" y2="1068.5" stroke-width="11"/>
<line x1="1293.9" y1="1060" x2="1293.9" y2="1068.5" stroke-width="11"/>
<line x1="1329.5" y1="1060" x2="1329.5" y2="1068.5" stroke-width="11"/>
<line x1="1357.1" y1="1060" x2="1357.1" y2="1068.5" stroke-width="11"/>
<line x1="1379.6" y1="1060" x2="1379.6" y2="1068.5" stroke-width="11"/>
<line x1="1398.7" y1="1060" x2="1398.7" y2="1068.5" stroke-width="11"/>
<line x1="1415.2" y1="1060" x2="1415.2" y2="1068.5" stroke-width="11"/>
<line x1="1429.8" y1="1060" x2="1429.8" y2="1068.5" stroke-width="11"/>
<line x1="1442.8" y1="1060" x2="1442.8" y2="1079.5" stroke-width="11"/>
<line x1="1528.6" y1="1060" x2="1528.6" y2="1068.5" stroke-width="11"/>
<line x1="1578.7" y1="1060" x2="1578.7" y2="1068.5" stroke-width="11"/>
<line x1="1614.3" y1="1060" x2="1614.3" y2="1068.5" stroke-width="11"/>
<line x1="1641.9" y1="1060" x2="1641.9" y2="1068.5" stroke-width="11"/>
<line x1="1664.5" y1="1060" x2="1664.5" y2="1068.5" stroke-width="11"/>
<line x1="1683.5" y1="1060" x2="1683.5" y2="1068.5" stroke-width="11"/>
<line x1="1700.1" y1="1060" x2="1700.1" y2="1068.5" stroke-width="11"/>
<line x1="1714.6" y1="1060" x2="1714.6" y2="1068.5" stroke-width="11"/>
<line x1="1727.7" y1="1060" x2="1727.7" y2="1079.5" stroke-width="11"/>
<line x1="1813.4" y1="1060" x2="1813.4" y2="1068.5" stroke-width="11"/>
<line x1="1863.6" y1="1060" x2="1863.6" y2="1068.5" stroke-width="11"/>
<line x1="1899.2" y1="1060" x2="1899.2" y2="1068.5" stroke-width="11"/>
<line x1="1926.8" y1="1060" x2="1926.8" y2="1068.5" stroke-width="11"/>
<line x1="1949.3" y1="1060" x2="1949.3" y2="1068.5" stroke-width="11"/>
<line x1="1968.4" y1="1060" x2="1968.4" y2="1068.5" stroke-width="11"/>
<line x1="1984.9" y1="1060" x2="1984.9" y2="1068.5" stroke-width="11"/>
<line x1="1999.5" y1="1060" x2="1999.5" y2="1068.5" stroke-width="11"/>
<line x1="2012.5" y1="1060" x2="2012.5" y2="1079.5" stroke-width="11"/>
</g>
<g id="ticklabels" filter="url(#bin)">
<text x="148.8 170.6 207.4 224.7" y="0" font-size="55.5" xml:space="preserve" transform="translate(0 174.0) scale(1 1.04)">-0.2</text>
<text x="148.8 170.6 207.4 224.6" y="0" font-size="55.5" xml:space="preserve" transform="translate(0 431.3) scale(1 1.04)">-0.4</text>
<text x="148.8 170.6 207.4 224.5" y="0" font-size="55.5" xml:space="preserve" transform="translate(0 688.5) scale(1 1.04)">-0.6</text>
<text x="148.8 170.6 207.4 224.5" y="0" font-size="55.5" xml:space="preserve" transform="translate(0 945.8) scale(1 1.04)">-0.8</text>
<text x="251.6 286.1" y="0" font-size="55.5" xml:space="preserve" transform="translate(0 1146) scale(1 1.04)" clip-path="url(#c6)">10</text>
<text x="323.7 334.7" y="0" font-size="33.5" xml:space="preserve" transform="translate(0 1116.3) scale(1 1.04)">-9</text>
<text x="536.4 570.9" y="0" font-size="55.5" xml:space="preserve" transform="translate(0 1146) scale(1 1.04)" clip-path="url(#c7)">10</text>
<text x="608.6 619.5" y="0" font-size="33.5" xml:space="preserve" transform="translate(0 1116.3) scale(1 1.04)">-8</text>
<text x="821.3 855.8" y="0" font-size="55.5" xml:space="preserve" transform="translate(0 1146) scale(1 1.04)" clip-path="url(#c8)">10</text>
<text x="893.4 904.4" y="0" font-size="33.5" xml:space="preserve" transform="translate(0 1116.3) scale(1 1.04)">-7</text>
<text x="1106.1 1140.6" y="0" font-size="55.5" xml:space="preserve" transform="translate(0 1146) scale(1 1.04)" clip-path="url(#c9)">10</text>
<text x="1178.2 1189.2" y="0" font-size="33.5" xml:space="preserve" transform="translate(0 1116.3) scale(1 1.04)">-6</text>
<text x="1390.9 1425.4" y="0" font-size="55.5" xml:space="preserve" transform="translate(0 1146) scale(1 1.04)" clip-path="url(#c10)">10</text>
<text x="1463.1 1474.0" y="0" font-size="33.5" xml:space="preserve" transform="translate(0 1116.3) scale(1 1.04)">-5</text>
<text x="1675.8 1710.3" y="0" font-size="55.5" xml:space="preserve" transform="translate(0 1146) scale(1 1.04)" clip-path="url(#c11)">10</text>
<text x="1747.9 1758.7" y="0" font-size="33.5" xml:space="preserve" transform="translate(0 1116.3) scale(1 1.04)">-4</text>
<text x="1960.6 1995.1" y="0" font-size="55.5" xml:space="preserve" transform="translate(0 1146) scale(1 1.04)" clip-path="url(#c12)">10</text>
<text x="2032.7 2043.9" y="0" font-size="33.5" xml:space="preserve" transform="translate(0 1116.3) scale(1 1.04)">-3</text>
</g>
<g id="titles" filter="url(#bin)">
<text x="775.9 812.2 848.3 882.3 899.3 919.3 936.6 969.4 1006.6 1031.9 1052.0 1083.5 1121.0 1140.4 1157.1 1192.8 1224.6 1261.8 1294.8 1310.6 1330.5 1360.4 1377.3 1394.3 1410.1 1426.1 1442.2 1482.6 1515.9" y="0" font-size="51" xml:space="preserve" transform="translate(0 1206) scale(1 1.04)">Log ( current density, i/ Acm</text>
<text x="1568.4 1579.3" y="0" font-size="31" xml:space="preserve" transform="translate(0 1177.5) scale(1 1.04)">-2</text>
<text x="1602.6" y="0" font-size="51" xml:space="preserve" transform="translate(0 1206) scale(1 1.04)">)</text>
<text x="-857.6 -823.9 -794.3 -777.7 -750.1 -717.9 -700.5 -688.9 -658.5 -646.5 -631.8 -617.1 -583.6 -570.0 -555.8 -541.7 -508.1 -494.5 -466.4 -438.4 -424.7 -390.7 -353.2" y="0" font-size="51" xml:space="preserve" transform="translate(60.5 0) rotate(-90) translate(0 0) scale(1 1.04)">Potential, E / V vs SCE</text>
</g>
</svg></body></html>
